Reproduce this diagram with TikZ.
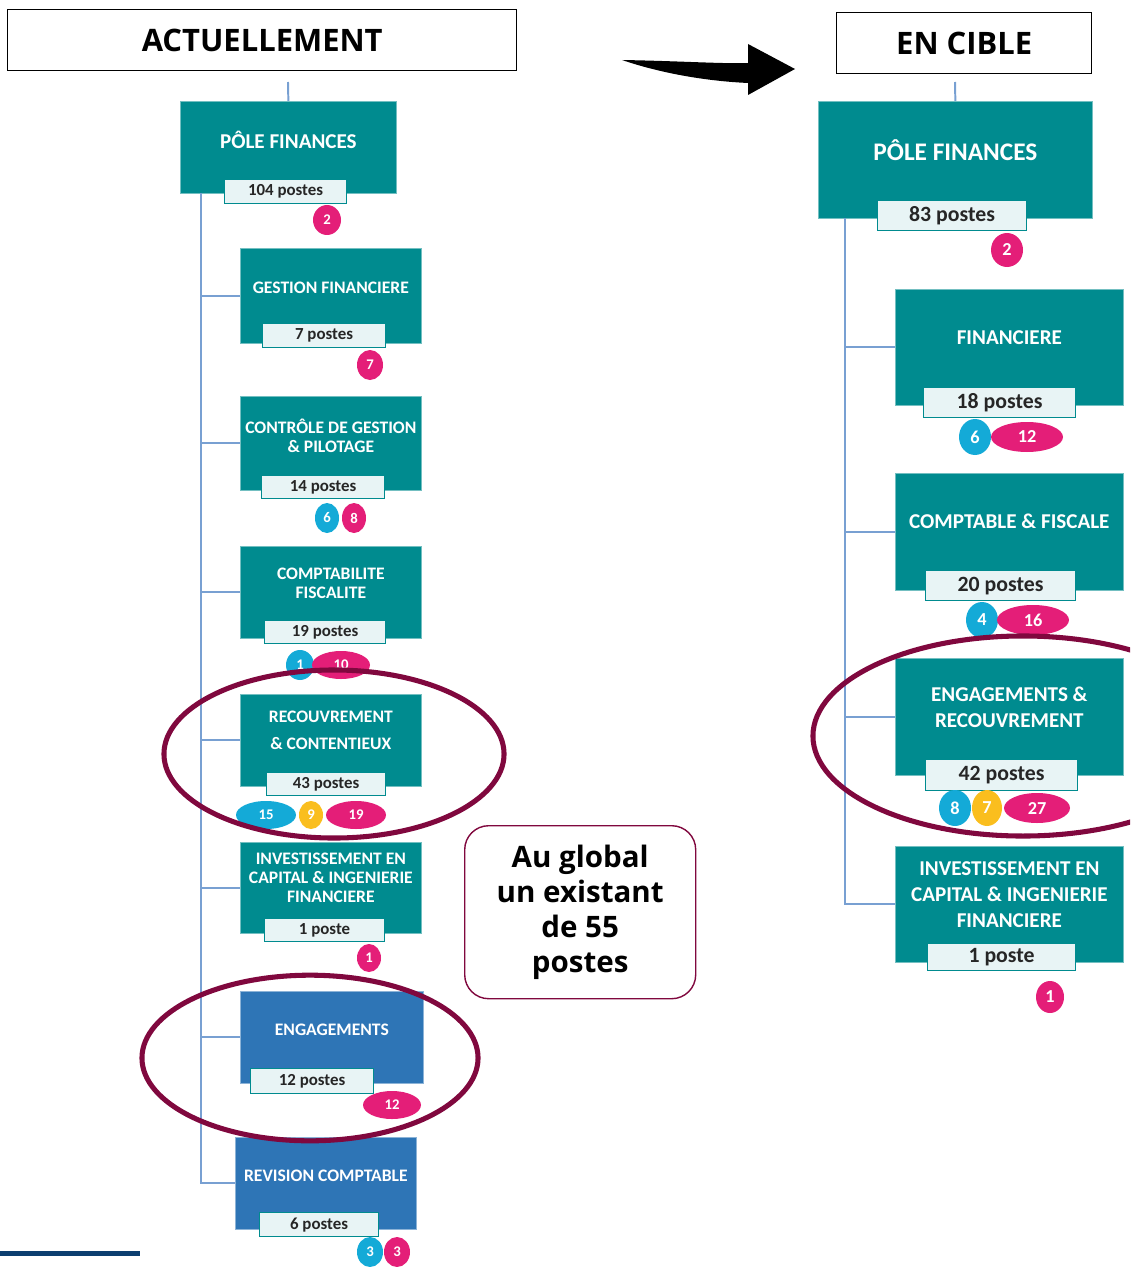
\documentclass[tikz,border=0pt]{standalone}
\usepackage{fontspec}
\setmainfont{Open Sans}
\newfontfamily\capfont{Carlito}
\usetikzlibrary{shapes.geometric,calc}

\definecolor{poleteal}{RGB}{0,139,143}
\definecolor{poleblue}{RGB}{46,117,182}
\definecolor{tagfill}{RGB}{232,244,245}
\definecolor{trunkblue}{RGB}{120,160,210}
\definecolor{dotpink}{RGB}{228,30,120}
\definecolor{dotcyan}{RGB}{20,170,215}
\definecolor{dotyellow}{RGB}{250,190,30}
\definecolor{ringred}{RGB}{128,8,62}
\definecolor{barnavy}{RGB}{12,62,112}

\begin{document}
\begin{tikzpicture}[
  x=0.025cm, y=-0.025cm,
  dims/.style 2 args={minimum width=#1*0.025cm, minimum height=#2*0.025cm},
  title/.style={draw, line width=1pt, anchor=north west, inner sep=0pt, font=\bfseries\fontsize{22}{26}\selectfont},
  unit/.style={fill=poleteal, draw=poleteal!55!white, line width=0.5pt, anchor=north west, inner sep=0pt},
  unitb/.style={unit, fill=poleblue, draw=poleblue!55!white},
  capL/.style={text=white, align=center, inner sep=0pt, font=\capfont\bfseries\fontsize{12.5}{13.5}\selectfont},
  capR/.style={capL, font=\capfont\bfseries\fontsize{15}{18.5}\selectfont},
  tagL/.style={fill=tagfill, draw=poleteal, line width=0.8pt, anchor=north west, inner sep=0pt, text=black!85, font=\capfont\bfseries\fontsize{12}{12}\selectfont},
  tagR/.style={tagL, font=\capfont\bfseries\fontsize{15.5}{16}\selectfont},
  dotL/.style={ellipse, inner sep=0pt, text=white, font=\capfont\bfseries\fontsize{10.5}{10}\selectfont},
  dotR/.style={dotL, font=\capfont\bfseries\fontsize{13}{13}\selectfont},
  fpink/.style={fill=dotpink},
  fcyan/.style={fill=dotcyan},
  fyellow/.style={fill=dotyellow},
  ring/.style={draw=ringred, line width=3.6pt},
  branch/.style={draw=trunkblue, line width=1.4pt}
  ]
  \clip (0,0) rectangle (1130,1267);

  % headings and the shift arrow
  \node[title, dims={509}{61}] (nowT) at (7,9) {ACTUELLEMENT};
  \node[title, dims={255}{61}] (aimT) at (836,12) {EN CIBLE};
  \coordinate (shiftA) at (622,60);
  \coordinate (shiftB) at (795,69);
  \fill (shiftA) .. controls (680,61) and (725,64) .. (748,63) -- (748,44) -- (shiftB)
    -- (748,95) -- (748,83) .. controls (705,81) and (660,73) .. cycle;

  % current organisation
  \node[unit, dims={216}{92}] (poleL) at (180,101) {};
  \node[capL, font=\capfont\bfseries\fontsize{15}{17}\selectfont] (poleLtxt) at ([yshift=0.18cm]poleL.center) {PÔLE FINANCES};
  \node[tagL, dims={122}{24}] (poleLtag) at (224,179) {104 postes};
  \node[dotL, fpink, dims={28}{30}] (poleLd1) at (327,220) {2};

  \node[unit, dims={181}{95}] (gest) at (240,248) {};
  \node[capL] (gesttxt) at ([yshift=0.19cm]gest.center) {GESTION FINANCIERE};
  \node[tagL, dims={123}{24}] (gesttag) at (262,323) {7 postes};
  \node[dotL, fpink, dims={26}{30}] (gestd1) at (370,365) {7};

  \node[unit, dims={181}{94}] (ctrl) at (240,396) {};
  \node[capL] (ctrltxt) at ([yshift=0.2cm]ctrl.center) {CONTRÔLE DE GESTION\\\& PILOTAGE};
  \node[tagL, dims={123}{23}] (ctrltag) at (261,475) {14 postes};
  \node[dotL, fcyan, dims={24}{30}] (ctrld1) at (327,518) {6};
  \node[dotL, fpink, dims={24}{30}] (ctrld2) at (354,518) {8};

  \node[unit, dims={181}{92}] (cpta) at (240,546) {};
  \node[capL] (cptatxt) at ([yshift=0.22cm]cpta.center) {COMPTABILITE\\FISCALITE};
  \node[tagL, dims={121}{23}] (cptatag) at (264,620) {19 postes};
  \node[dotL, fcyan, dims={28}{30}] (cptad1) at (300,665) {1};
  \node[dotL, fpink, dims={58}{28}] (cptad2) at (341,665) {10};

  \node[unit, dims={181}{92}] (recv) at (240,694) {};
  \node[capL, font=\capfont\bfseries\fontsize{12.5}{19.2}\selectfont] (recvtxt) at ([yshift=0.24cm]recv.center) {RECOUVREMENT\\\& CONTENTIEUX};
  \node[tagL, dims={119}{23}] (recvtag) at (266,772) {43 postes};
  \node[dotL, fcyan, dims={60}{28}] (recvd1) at (266,815) {15};
  \node[dotL, fyellow, dims={24}{28}] (recvd2) at (311,815) {9};
  \node[dotL, fpink, dims={60}{28}] (recvd3) at (356,815) {19};

  \node[unit, dims={181}{91}] (invL) at (240,842) {};
  \node[capL] (invLtxt) at ([yshift=0.24cm]invL.center) {INVESTISSEMENT EN\\CAPITAL \& INGENIERIE\\FINANCIERE};
  \node[tagL, dims={120}{23}] (invLtag) at (264,918) {1 poste};
  \node[dotL, fpink, dims={24}{28}] (invLd1) at (369,958) {1};

  \node[unitb, dims={183}{92}] (engL) at (240,991) {};
  \node[capL] (engLtxt) at ([yshift=0.18cm]engL.center) {ENGAGEMENTS};
  \node[tagL, dims={123}{25}] (engLtag) at (250,1068) {12 postes};
  \node[dotL, fpink, dims={58}{28}] (engLd1) at (392,1105) {12};

  \node[unitb, dims={181}{92}] (revi) at (235,1137) {};
  \node[capL] (revitxt) at ([yshift=0.2cm]revi.center) {REVISION COMPTABLE};
  \node[tagL, dims={119}{24}] (revitag) at (259,1212) {6 postes};
  \node[dotL, fcyan, dims={26}{30}] (revid1) at (370,1252) {3};
  \node[dotL, fpink, dims={26}{30}] (revid2) at (397,1252) {3};

  \coordinate (topL) at (288,82);
  \coordinate (trunkL) at (201,193);
  \draw[branch] (topL) -- (poleL.north);
  \draw[branch] (trunkL) |- (revi.west);
  \foreach \u in {gest,ctrl,cpta,recv,invL,engL}
    \draw[branch] (trunkL |- \u.west) -- (\u.west);

  % target organisation
  \node[unit, dims={274}{117}] (poleR) at (818,101) {};
  \node[capR, font=\capfont\bfseries\fontsize{18}{20}\selectfont] (poleRtxt) at ([yshift=0.24cm]poleR.center) {PÔLE FINANCES};
  \node[tagR, dims={149}{30}] (poleRtag) at (877,200) {83 postes};
  \node[dotR, fpink, dims={32}{34}] (poleRd1) at (1007,250) {2};

  \node[unit, dims={228}{116}] (finR) at (895,289) {};
  \node[capR] (finRtxt) at ([yshift=0.25cm]finR.center) {FINANCIERE};
  \node[tagR, dims={152}{30}] (finRtag) at (923,387) {18 postes};
  \node[dotR, fcyan, dims={32}{36}] (finRd1) at (975,437) {6};
  \node[dotR, fpink, dims={72}{30}] (finRd2) at (1027,437) {12};

  \node[unit, dims={228}{117}] (cptR) at (895,473) {};
  \node[capR] (cptRtxt) at ([yshift=0.26cm]cptR.center) {COMPTABLE \& FISCALE};
  \node[tagR, dims={150}{30}] (cptRtag) at (925,570) {20 postes};
  \node[dotR, fcyan, dims={32}{36}] (cptRd1) at (982,620) {4};
  \node[dotR, fpink, dims={72}{30}] (cptRd2) at (1033,620) {16};

  \node[unit, dims={228}{117}] (engR) at (895,658) {};
  \node[capR, font=\capfont\bfseries\fontsize{15}{18.5}\selectfont] (engRtxt) at ([yshift=0.24cm]engR.center) {ENGAGEMENTS \&\\RECOUVREMENT};
  \node[tagR, dims={152}{31}] (engRtag) at (925,759) {42 postes};
  \node[dotR, fcyan, dims={32}{36}] (engRd1) at (955,808) {8};
  \node[dotR, fyellow, dims={30}{36}] (engRd2) at (987,808) {7};
  \node[dotR, fpink, dims={66}{30}] (engRd3) at (1037,808) {27};

  \node[unit, dims={228}{116}] (invR) at (895,846) {};
  \node[capR] (invRtxt) at ([yshift=0.25cm]invR.center) {INVESTISSEMENT EN\\CAPITAL \& INGENIERIE\\FINANCIERE};
  \node[tagR, dims={148}{27}] (invRtag) at (927,943) {1 poste};
  \node[dotR, fpink, dims={28}{32}] (invRd1) at (1050,997) {1};

  \coordinate (topR) at (955,82);
  \coordinate (trunkR) at (845,218);
  \draw[branch] (topR) -- (poleR.north);
  \draw[branch] (trunkR) |- (invR.west);
  \foreach \u in {finR,cptR,engR}
    \draw[branch] (trunkR |- \u.west) -- (\u.west);

  % highlighted services
  \draw[ring] (334,754) ellipse [x radius=4.25cm, y radius=2.1cm];
  \draw[ring] (310,1058) ellipse [x radius=4.2cm, y radius=2.07cm];
  \draw[ring] (1023,736) ellipse [x radius=5.25cm, y radius=2.5cm];

  % summary
  \node[draw=ringred, line width=1pt, rounded corners=0.6cm, anchor=north west, dims={231}{173},
    align=center, font=\bfseries\fontsize{21}{25}\selectfont] (total) at (464,825)
    {Au global\\un existant\\de 55\\postes};

  \fill[barnavy] (0,1251) rectangle (140,1256);
\end{tikzpicture}
\end{document}
